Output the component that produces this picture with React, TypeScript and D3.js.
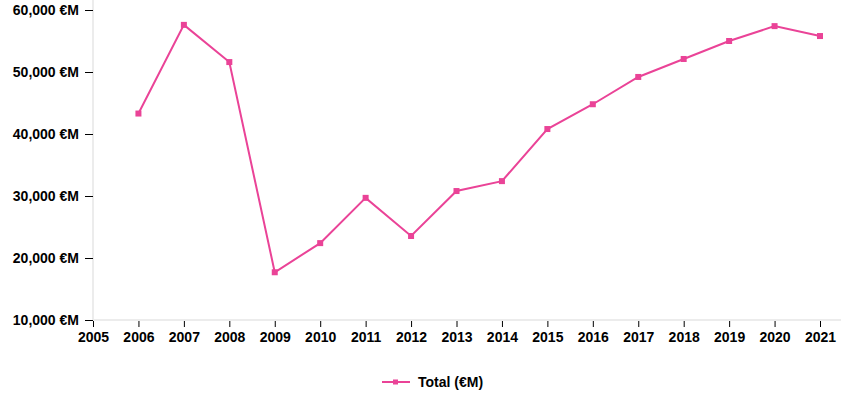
import React, { useEffect, useRef } from "react";
import * as d3 from "d3";

const years = [2006, 2007, 2008, 2009, 2010, 2011, 2012, 2013, 2014, 2015, 2016, 2017, 2018, 2019, 2020, 2021];
const totals = [43300, 57600, 51600, 17700, 22400, 29700, 23550, 30800, 32400, 40800, 44800, 49200, 52100, 55000, 57400, 55800];
const yTicks = [10000, 20000, 30000, 40000, 50000, 60000];
const seriesName = "Total (€M)";

const color = "#ea4397";

export default function App() {
  const ref = useRef<SVGSVGElement>(null);

  useEffect(() => {
    const W = 841, H = 398;
    const margin = { top: 10, right: 21, bottom: 78, left: 93 };
    const w = W - margin.left - margin.right;
    const h = H - margin.top - margin.bottom;

    const svg = d3.select(ref.current);
    svg.selectAll("*").remove();

    const g = svg.append("g").attr("transform", `translate(${margin.left},${margin.top})`);

    const x = d3.scaleLinear().domain([2005, 2021]).range([0, w]);
    const y = d3.scaleLinear().domain([10000, 60000]).range([h, 0]);

    // grey frame lines
    g.append("line")
      .attr("x1", 0).attr("x2", 0).attr("y1", -margin.top).attr("y2", h)
      .attr("stroke", "#ececec").attr("stroke-width", 2);
    g.append("line")
      .attr("x1", 0).attr("x2", W - margin.left).attr("y1", h).attr("y2", h)
      .attr("stroke", "#ececec").attr("stroke-width", 2);

    const yAxis = g.append("g")
      .call(d3.axisLeft(y).tickValues(yTicks).tickSize(8).tickPadding(6)
        .tickFormat((d) => `${d3.format(",")(d as number)} €M`));
    yAxis.select(".domain").remove();
    yAxis.selectAll("text")
      .style("font-family", "'Liberation Sans', Arial, sans-serif")
      .style("font-size", "14px").style("font-weight", "bold").attr("fill", "#000");
    yAxis.selectAll("line").attr("stroke", "#000");

    const xAxis = g.append("g")
      .attr("transform", `translate(0,${h + 1})`)
      .call(d3.axisBottom(x).tickValues(d3.range(2005, 2022)).tickSize(6).tickPadding(5)
        .tickFormat((d) => String(d)));
    xAxis.select(".domain").remove();
    xAxis.selectAll("text")
      .style("font-family", "'Liberation Sans', Arial, sans-serif")
      .style("font-size", "14px").style("font-weight", "bold").attr("fill", "#000");
    xAxis.selectAll("line").attr("stroke", "#000");

    const data = years.map((yr, i) => ({ yr, v: totals[i] }));

    g.append("path")
      .datum(data)
      .attr("fill", "none")
      .attr("stroke", color)
      .attr("stroke-width", 2)
      .attr("d", d3.line<{ yr: number; v: number }>().x((d) => x(d.yr)).y((d) => y(d.v)));

    g.selectAll("rect.pt")
      .data(data)
      .join("rect")
      .attr("class", "pt")
      .attr("x", (d) => x(d.yr) - 3)
      .attr("y", (d) => y(d.v) - 3)
      .attr("width", 6)
      .attr("height", 6)
      .attr("fill", color);

    // legend
    const lg = svg.append("g").attr("transform", "translate(382,382)");
    lg.append("line").attr("x1", 0).attr("x2", 28).attr("y1", 0).attr("y2", 0)
      .attr("stroke", color).attr("stroke-width", 2);
    lg.append("rect").attr("x", 11).attr("y", -2.5).attr("width", 5).attr("height", 5).attr("fill", color);
    lg.append("text")
      .attr("x", 36).attr("y", 0).attr("dy", "0.35em")
      .style("font-family", "'Liberation Sans', Arial, sans-serif")
      .style("font-size", "14px").style("font-weight", "bold")
      .attr("fill", "#000")
      .text(seriesName);
  }, []);

  return <svg ref={ref} width={841} height={398} style={{ position: "absolute", left: 0, top: 0 }}></svg>;
}
